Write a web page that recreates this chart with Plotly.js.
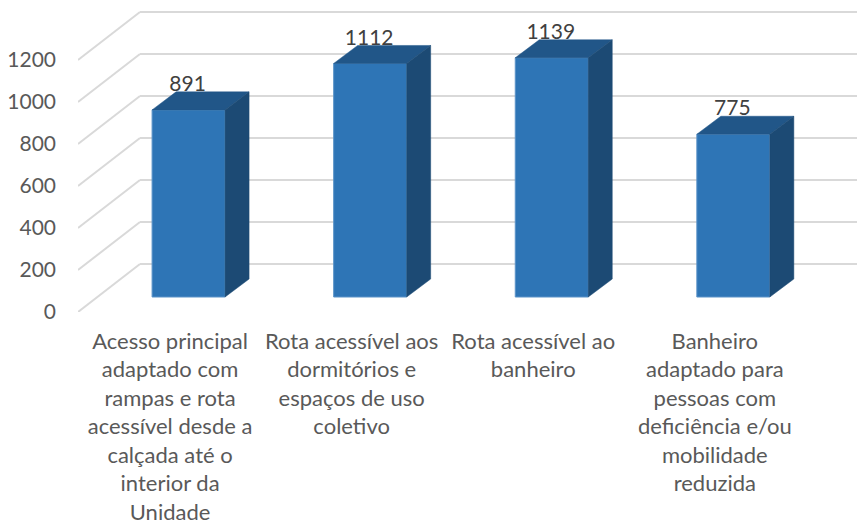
<!DOCTYPE html>
<html>
<head>
<meta charset="utf-8">
<script src="https://cdn.plot.ly/plotly-3.0.1.min.js"></script>
<style>html,body{margin:0;padding:0;background:#fff;overflow:hidden}</style>
</head>
<body>
<div id="chart" style="width:857px;height:526px"></div>
<script>
const categoryLines = [
  ["Acesso principal","adaptado com","rampas e rota","acessível desde a","calçada até o","interior da","Unidade"],
  ["Rota acessível aos","dormitórios e","espaços de uso","coletivo"],
  ["Rota acessível ao","banheiro"],
  ["Banheiro","adaptado para","pessoas com","deficiência e/ou","mobilidade","reduzida"]
];
const values = [891, 1112, 1139, 775];
const yTicks = [0, 200, 400, 600, 800, 1000, 1200];

// Scale constants of the faux-3D projection
const pxX = 181.6, pxY = 0.21;            // pixels per category / per value unit
const xMin = -0.507, xMax = 3.783, yMax = 1457;
const barOffset = 0.102, barWidth = 0.402, barBase = 71.4;
const depthX = 24 / pxX, depthY = 18 / pxY;
const wallX = 62 / pxX, wallY = 48 / pxY;
const labelLift = 24 / pxY, labelShift = -1 / pxX;

const cx = values.map((_, i) => i + barOffset);
const tops = values.map(v => v + barBase);

function faces(build) {
  const xs = [], ys = [];
  values.forEach((_, i) => {
    const p = build(cx[i] - barWidth / 2, cx[i] + barWidth / 2, tops[i]);
    p.forEach(q => { xs.push(q[0]); ys.push(q[1]); });
    xs.push(null); ys.push(null);
  });
  return {x: xs, y: ys};
}
const topFace = faces((l, r, t) => [[l,t],[r,t],[r+depthX,t+depthY],[l+depthX,t+depthY],[l,t]]);
const sideFace = faces((l, r, t) => [[r,t],[r+depthX,t+depthY],[r+depthX,barBase+depthY],[r,barBase],[r,t]]);

const gridShapes = [];
yTicks.forEach(v => {
  const line = {color:'#D9D9D9', width:2};
  gridShapes.push({type:'line', layer:'below', xref:'x', yref:'y', x0:xMin, y0:v, x1:xMin+wallX, y1:v+wallY, line});
  gridShapes.push({type:'line', layer:'below', xref:'x', yref:'y', x0:xMin+wallX, y0:v+wallY, x1:xMax, y1:v+wallY, line});
});

const poly = (f, color) => ({type:'scatter', mode:'lines', x:f.x, y:f.y, fill:'toself', fillcolor:color,
  line:{color:color, width:0.5}, hoverinfo:'skip', showlegend:false});

const traces = [
  {type:'bar', x:cx, y:values, base:barBase, width:barWidth,
   marker:{color:'#2E75B6', line:{color:'#5B93C8', width:1}}, hoverinfo:'skip', showlegend:false},
  poly(topFace, '#215688'),
  poly(sideFace, '#1C4A74'),
  {type:'scatter', mode:'text', x:cx.map(c => c + labelShift), y:tops.map(t => t + labelLift),
   text:values.map(String), textposition:'middle center',
   textfont:{family:'Lato, sans-serif', size:21, color:'#404040'}, hoverinfo:'skip', showlegend:false, cliponaxis:false}
];

const tickText = categoryLines.map(lines =>
  lines.map(s => '<span style="font-size:22px">' + s + '</span>').join('<br>'));

const layout = {
  width:857, height:526, paper_bgcolor:'#fff', plot_bgcolor:'#fff',
  margin:{l:78, r:0, t:6, b:214, pad:0},
  showlegend:false, hovermode:false,
  xaxis:{type:'linear', range:[xMin,xMax], tickmode:'array', tickvals:values.map((_,i)=>i), ticktext:tickText,
    tickangle:0, showgrid:false, zeroline:false, showline:false, ticks:'', ticklabelstandoff:14,
    tickfont:{family:'Lato, sans-serif', size:21.9, color:'#595959'}},
  yaxis:{range:[0,yMax], tickmode:'array', tickvals:yTicks, showgrid:false, zeroline:false, showline:false, ticks:'',
    ticklabelstandoff:21, tickfont:{family:'Lato, sans-serif', size:21, color:'#595959'}},
  shapes:gridShapes
};
Plotly.newPlot('chart', traces, layout, {displayModeBar:false, responsive:false});
</script>
</body>
</html>
